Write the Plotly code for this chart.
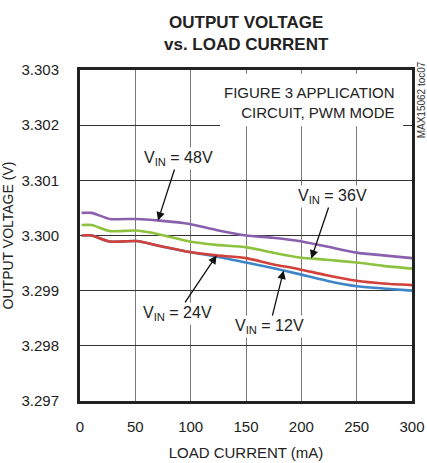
import plotly.graph_objects as go

# Load current (mA) sample points shared by all curves
load_ma = [1.5, 10.5, 27, 51, 72, 99, 123, 150, 174, 198, 223, 250, 274, 300]

# Output voltage (V) for each input voltage
vout_48v = [3.30041, 3.30041, 3.30030, 3.30030, 3.30027, 3.30021, 3.30010,
            3.30000, 3.29996, 3.29990, 3.29980, 3.29969, 3.29964, 3.29959]
vout_36v = [3.30019, 3.30019, 3.30008, 3.30009, 3.30002, 3.29989, 3.29983,
            3.29979, 3.29969, 3.29960, 3.29956, 3.29951, 3.29945, 3.29940]
vout_24v = [3.30000, 3.30000, 3.29989, 3.29990, 3.29981, 3.29970, 3.29964,
            3.29959, 3.29948, 3.29939, 3.29928, 3.29918, 3.29913, 3.29910]
vout_12v = [3.30000, 3.30000, 3.29989, 3.29990, 3.29981, 3.29970, 3.29962,
            3.29951, 3.29941, 3.29930, 3.29918, 3.29908, 3.29904, 3.29900]

x_ticks = [0, 50, 100, 150, 200, 250, 300]
y_ticks = [3.297, 3.298, 3.299, 3.300, 3.301, 3.302, 3.303]
y_tick_text = ["3.297", "3.298", "3.299", "3.300", "3.301", "3.302", "3.303"]

FONT = "Liberation Sans, Arial, sans-serif"
INK = "#222"

series = [
    ("12V", vout_12v, "#3d85c6"),
    ("24V", vout_24v, "#d2413a"),
    ("36V", vout_36v, "#8dc23f"),
    ("48V", vout_48v, "#8a5fae"),
]

fig = go.Figure()
for name, ys, color in series:
    fig.add_trace(go.Scatter(
        x=load_ma, y=ys, mode="lines", name=name,
        line=dict(color=color, width=2.6, shape="spline", smoothing=0.6),
        showlegend=False, hoverinfo="skip",
    ))


def value_at(xs, ys, xq):
    """Linear read-off of a curve at load current xq."""
    for i in range(len(xs) - 1):
        if xs[i] <= xq <= xs[i + 1]:
            t = (xq - xs[i]) / (xs[i + 1] - xs[i])
            return ys[i] + t * (ys[i + 1] - ys[i])
    return ys[-1]


# Curve labels with arrows: text, curve, arrow-tip current, text offset (px)
labels = [
    ("V<sub>IN</sub> = 48V", vout_48v, 70.5, 20, -62),
    ("V<sub>IN</sub> = 36V", vout_36v, 209, 21, -62),
    ("V<sub>IN</sub> = 24V", vout_24v, 123.5, -39, 58),
    ("V<sub>IN</sub> = 12V", vout_12v, 184, -14, 56),
]
annotations = []
for text, ys, xq, ax, ay in labels:
    annotations.append(dict(
        x=xq, y=value_at(load_ma, ys, xq), xref="x", yref="y",
        text=text, showarrow=True, ax=ax, ay=ay,
        arrowhead=2, arrowsize=1.3, arrowwidth=1.3, arrowcolor="#111",
        font=dict(family=FONT, size=16, color=INK),
        bgcolor="white", borderpad=1,
    ))

annotations += [
    dict(text="<b>OUTPUT VOLTAGE<br>vs. LOAD CURRENT</b>", x=0.5, y=1,
         xref="paper", yref="paper", xanchor="center", yanchor="bottom",
         yshift=14, showarrow=False,
         font=dict(family=FONT, size=17, color=INK)),
    dict(text="FIGURE 3 APPLICATION<br>CIRCUIT, PWM MODE", x=286.4,
         y=3.30241, xref="x", yref="y", xanchor="right", yanchor="middle",
         align="right", showarrow=False,
         font=dict(family=FONT, size=15, color=INK)),
    dict(text="MAX15062 toc07", x=1.0, y=3.30245, xref="paper", yref="y",
         xanchor="center", xshift=9, textangle=-90, showarrow=False,
         font=dict(family=FONT, size=10, color="#333")),
]

fig.update_layout(
    width=427, height=463,
    margin=dict(l=80, r=15, t=70, b=62, autoexpand=False),
    paper_bgcolor="white", plot_bgcolor="white",
    font=dict(family=FONT, size=15, color=INK),
    annotations=annotations,
    # white panel behind the circuit note, covering the grid only
    shapes=[dict(type="rect", xref="x", yref="y", x0=126.5, x1=292,
                 y0=3.30198, y1=3.30293, fillcolor="white", line_width=0,
                 layer="between")],
    xaxis=dict(range=[0, 300], tickvals=x_ticks, showgrid=True,
               gridcolor="#7a7a7a", gridwidth=1.3, showline=True, mirror=True,
               linecolor=INK, linewidth=3, ticks="outside", ticklen=10,
               tickcolor="rgba(0,0,0,0)", zeroline=False, automargin=False,
               title=dict(text="LOAD CURRENT (mA)", standoff=14,
                          font=dict(size=15))),
    yaxis=dict(range=[3.297, 3.303], tickvals=y_ticks, ticktext=y_tick_text,
               showgrid=True, gridcolor="#333", gridwidth=1.2, showline=True,
               mirror=True, linecolor=INK, linewidth=3, ticks="outside",
               ticklen=15, tickcolor="rgba(0,0,0,0)", zeroline=False,
               automargin=False,
               title=dict(text="OUTPUT VOLTAGE (V)", standoff=6,
                          font=dict(size=14))),
)

fig.write_html("out.html")
